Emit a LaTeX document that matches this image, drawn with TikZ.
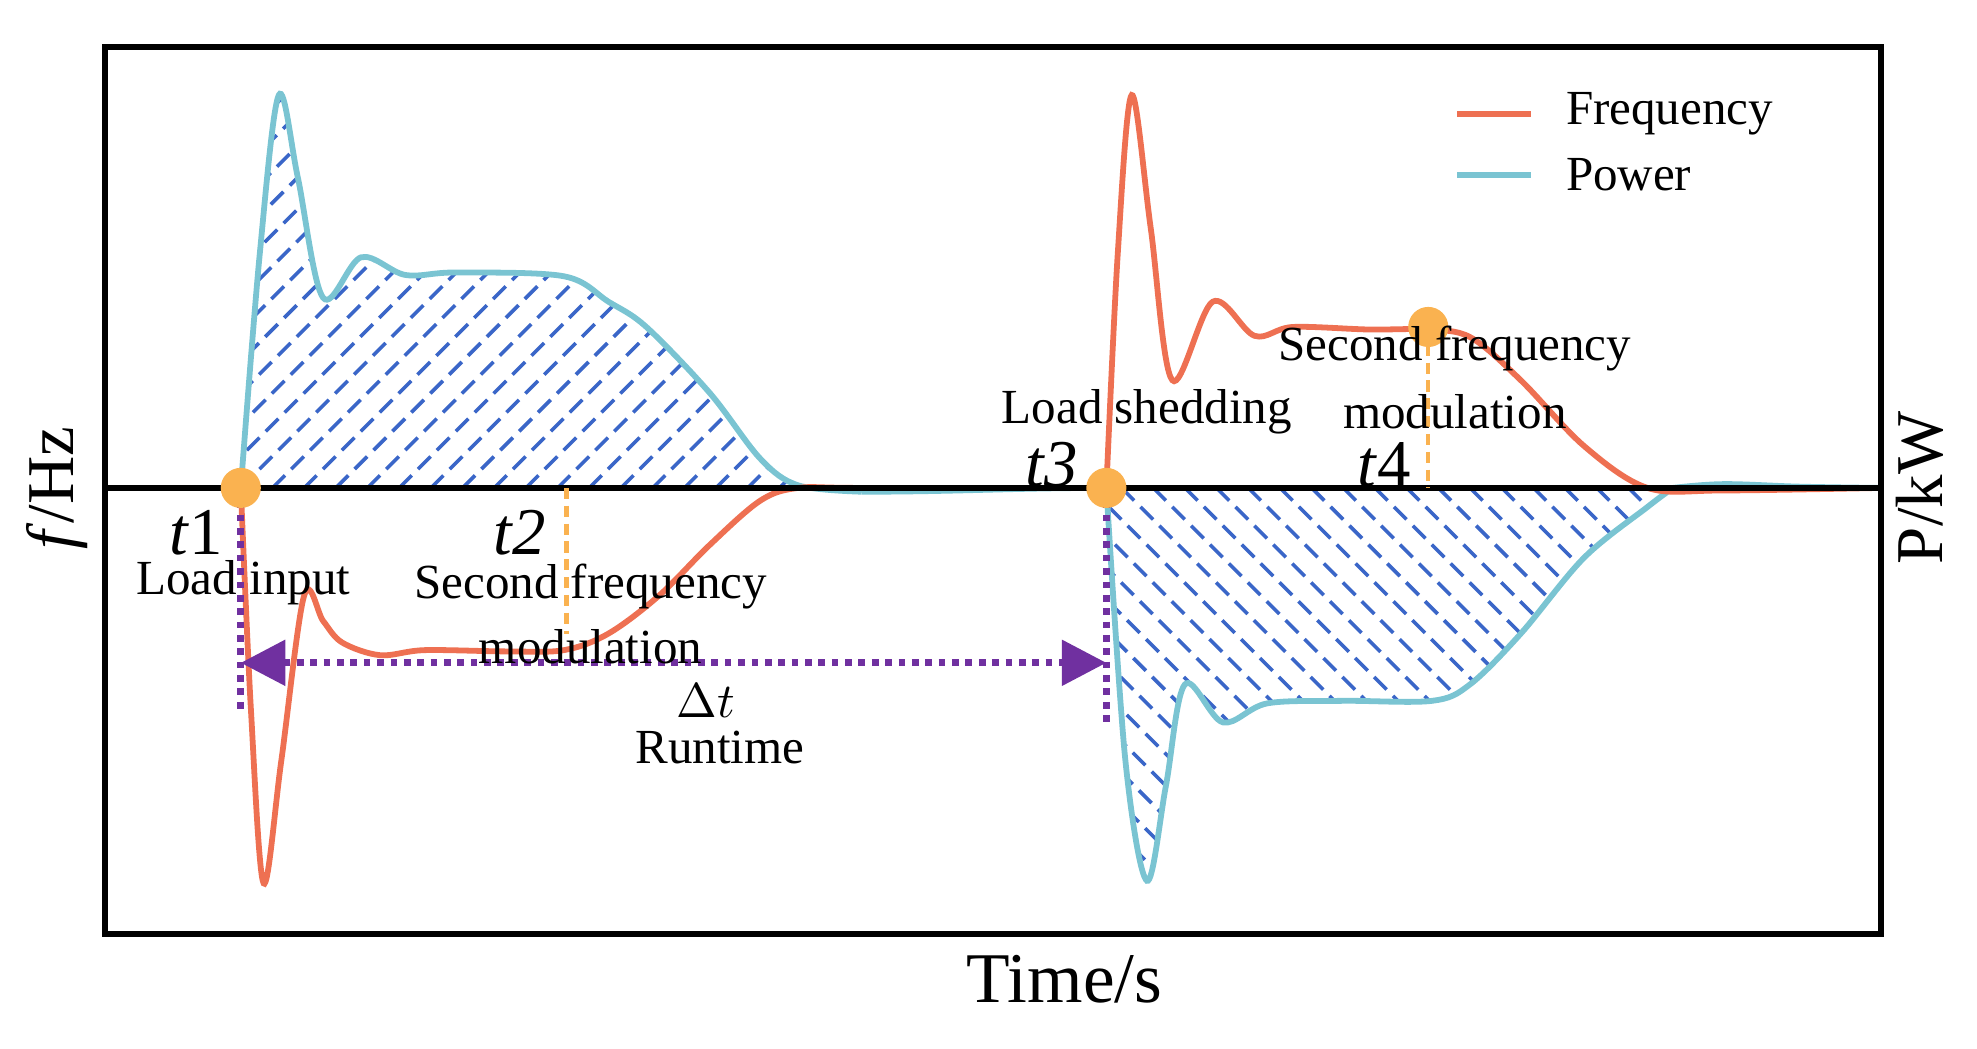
\documentclass[tikz,border=0pt]{standalone}
\usepackage{fontspec}
\setmainfont{Liberation Serif}
\usetikzlibrary{arrows.meta}
\definecolor{freqc}{RGB}{238,112,82}
\definecolor{powc}{RGB}{122,196,210}
\definecolor{hatchc}{RGB}{58,102,200}
\definecolor{dtc}{RGB}{112,48,160}
\definecolor{markc}{RGB}{250,178,80}
\tikzset{
  freq/.style={freqc,line width=1.3pt},
  pow/.style={powc,line width=1.3pt},
  hatch/.style={hatchc,line width=0.8pt,dash pattern=on 4pt off 2pt},
  tmark/.style={markc,line width=1pt,dash pattern=on 2.5pt off 1.5pt},
  span/.style={dtc,line width=1.6pt,dash pattern=on 1.5pt off 1.5pt},
  lbl/.style={font=\fontsize{11}{12}\selectfont,inner sep=0pt},
}
\newcommand{\powA}{(190,385) (205,200) (220,75) (235,140) (255,235) (285,203) (320,217) (360,215) (445,218) (480,238) (510,258) (560,310) (600,362) (630,383) (680,388)}
\newcommand{\powB}{(873,385) (888,600) (905,695) (920,620) (935,540) (965,570) (1000,555) (1060,553) (1130,553) (1160,540) (1200,500) (1250,440) (1300,400) (1320,385)}

\begin{document}
\begin{tikzpicture}[x=0.01cm,y=-0.01cm]
                \useasboundingbox (0,0) rectangle (1560,827);
                % Hatching
                \begin{scope}
                    \clip plot[smooth,tension=0.55] coordinates {\powA} -- (680,385) -- cycle;
                    \foreach \i in {-200,-175,...,700}
                        \draw[hatch] (\i,400) -- ++(340,-340);
                \end{scope}
                \begin{scope}
                    \clip plot[smooth,tension=0.55] coordinates {\powB} -- cycle;
                    \foreach \i in {560,585,...,1340}
                        \draw[hatch] (\i,385) -- ++(320,320);
                \end{scope}
                
                % Curves
                \draw[pow] plot[smooth,tension=0.55] coordinates {\powA};
                \draw[pow] (680,388) to[out=0,in=180] (873,385);
                \draw[pow] plot[smooth,tension=0.55] coordinates {\powB};
                \draw[pow] plot[smooth,tension=0.6] coordinates {(1320,385) (1360,382) (1420,384) (1484,385)};
                \draw[freq] plot[smooth,tension=0.55] coordinates {(190,385) (198,560) (208,697) (222,600) (240,470) (255,490) (270,507) (300,517) (335,513) (400,514) (445,513) (480,500) (520,470) (560,430) (600,395) (630,385) (680,385) (873,385)};
                \draw[freq] plot[smooth,tension=0.55] coordinates {(873,385) (882,200) (893,75) (908,180) (925,300) (957,238) (990,265) (1020,258) (1080,260) (1125,260) (1160,266) (1200,300) (1250,352) (1300,385) (1360,387) (1484,385)};
                
                % Axes and frame
                \draw[line width=1.4pt] (83,37) rectangle (1484,737);
                \draw[line width=1.4pt] (83,385) -- (1484,385);
                
                % Markers
                \coordinate (tA) at (190,385);
                \coordinate (tC) at (873,385);
                \coordinate (tD) at (1127,258);
                \draw[tmark] (447,385) -- (447,500);
                \draw[tmark] (tD) -- (1127,385);
                \draw[span] (tA) -- (190,562);
                \draw[span] (tC) -- (873,572);
                \coordinate (arrL) at (190,523);
                \coordinate (arrR) at (873,523);
                \draw[span,{Triangle[length=10pt,width=10pt]}-{Triangle[length=10pt,width=10pt]}] (arrL) -- (arrR);
                \foreach \p in {tA,tC,tD}
                    \fill[markc] (\p) circle (4.5pt);
                
                % Labels
                \node[lbl,font=\fontsize{15}{16}\selectfont] (lt1) at (155,420) {\textit{t}1};
                \node[lbl] (loadin) at (192,460) {Load input};
                \node[lbl,font=\fontsize{15}{16}\selectfont] (lt2) at (410,420) {\textit{t2}};
                \node[lbl] (sfa) at (466,463) {Second frequency};
                \node[lbl] (moda) at (466,510) {modulation};
                \node[lbl] (dt) at (557,553) {$\Delta t$};
                \node[lbl] (run) at (568,590) {Runtime};
                \node[lbl] (shed) at (905,325) {Load shedding};
                \node[lbl,font=\fontsize{15}{16}\selectfont] (lt3) at (830,367) {\textit{t3}};
                \node[lbl] (sfb) at (1148,275) {Second frequency};
                \node[lbl] (modb) at (1148,325) {modulation};
                \node[lbl,font=\fontsize{15}{16}\selectfont] (lt4) at (1092,367) {\textit{t}4};
                
                % Legend
                \draw[freq] (1150,90) -- (1208,90);
                \node[lbl,anchor=west] (legf) at (1235,90) {Frequency};
                \draw[pow] (1150,138) -- (1208,138);
                \node[lbl,anchor=west] (legp) at (1235,138) {Power};
                
                \node[lbl,font=\fontsize{16}{18}\selectfont] (xlab) at (840,773) {Time/s};
                \node[lbl,font=\fontsize{15}{16}\selectfont,rotate=90] (ylab) at (45,385) {\textit{f}/Hz};
                \node[lbl,font=\fontsize{15}{16}\selectfont,rotate=90] (plab) at (1515,385) {P/kW};
            \end{tikzpicture}
\end{document}
